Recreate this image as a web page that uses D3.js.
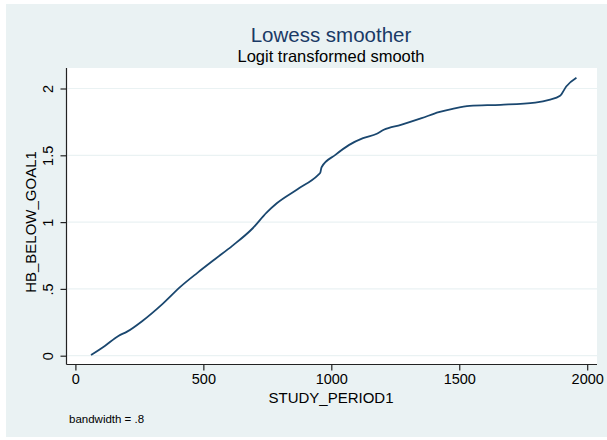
<!DOCTYPE html>
<html>
<head>
<meta charset="utf-8">
<script src="https://cdn.jsdelivr.net/npm/d3@7"></script>
<style>
  body { margin: 0; background: #ffffff; }
  svg { display: block; font-family: Arial, "Liberation Sans", sans-serif; }
</style>
</head>
<body>
<script>
// Lowess curve (STUDY_PERIOD1 vs smoothed HB_BELOW_GOAL1).
var studyPeriod = [61, 115, 168, 202, 263, 343, 411, 478, 545, 613, 693, 747, 787, 868, 949, 957, 962,
                   1016, 1070, 1124, 1178, 1205, 1272, 1353, 1420, 1474, 1541, 1662, 1797, 1851, 1894, 1918, 1958];
var hbBelowGoal = [0.005, 0.073, 0.148, 0.18, 0.262, 0.392, 0.517, 0.622, 0.722, 0.822, 0.954, 1.071, 1.141, 1.246, 1.354, 1.37, 1.411,
                   1.503, 1.578, 1.628, 1.661, 1.691, 1.728, 1.778, 1.823, 1.848, 1.870, 1.878, 1.895, 1.915, 1.945, 2.015, 2.08];
var xTicks = [0, 500, 1000, 1500, 2000];
var yTicks = [0, 0.5, 1, 1.5, 2];
var yTickLabels = ["0", ".5", "1", "1.5", "2"];

var width = 607, height = 440;
var plot = {left: 66.5, right: 597, top: 68, bottom: 364.5};

var svg = d3.select("body").append("svg")
        .attr("width", width)
        .attr("height", height);

// Graph region and plot region.
svg.append("rect")
        .attr("x", 6).attr("y", 4)
        .attr("width", width - 6).attr("height", height - 7)
        .style("fill", "#eaf2f3");
svg.append("rect")
        .attr("x", plot.left).attr("y", plot.top)
        .attr("width", plot.right - plot.left).attr("height", plot.bottom - plot.top)
        .style("fill", "#ffffff");

var x = d3.scaleLinear().domain([0, 2000]).range([75.4, 587.2]);
var y = d3.scaleLinear().domain([0, 2]).range([355.7, 88.5]);

// Grid lines.
svg.append("g").selectAll("line")
        .data(yTicks)
        .enter().append("line")
        .attr("x1", plot.left + 1).attr("x2", plot.right)
        .attr("y1", function(d) { return y(d); })
        .attr("y2", function(d) { return y(d); })
        .style("stroke", "#eaf2f3")
        .style("stroke-width", 1.2);

// X axis.
var xAxis = svg.append("g")
        .attr("transform", "translate(0," + plot.bottom + ")")
        .call(d3.axisBottom(x).tickValues(xTicks).tickSize(6).tickPadding(3).tickFormat(d3.format("d")));
xAxis.select(".domain").attr("d", "M" + plot.left + ",0H" + plot.right);
xAxis.selectAll("text").style("font-size", "14.5px").style("fill", "#000");

// Y axis with rotated tick labels.
var yAxis = svg.append("g")
        .attr("transform", "translate(" + plot.left + ",0)")
        .call(d3.axisLeft(y).tickValues(yTicks).tickSize(6)
              .tickFormat(function(d, i) { return yTickLabels[i]; }));
yAxis.select(".domain").attr("d", "M0," + plot.top + "V" + plot.bottom);
yAxis.selectAll("text")
        .attr("x", null).attr("dy", null)
        .attr("text-anchor", "middle")
        .attr("transform", "translate(-13.5,0) rotate(-90)")
        .style("font-size", "14.5px").style("fill", "#000");
svg.selectAll(".domain, .tick line").style("stroke", "#222").style("stroke-width", 1.2);

// Curve.
var pts = studyPeriod.map(function(d, i) { return [d, hbBelowGoal[i]]; });
svg.append("path")
        .datum(pts)
        .attr("d", d3.line()
              .x(function(d) { return x(d[0]); })
              .y(function(d) { return y(d[1]); })
              .curve(d3.curveMonotoneX))
        .style("fill", "none")
        .style("stroke", "#1a476f")
        .style("stroke-width", 1.8);

// Titles and notes.
svg.append("text")
        .attr("x", 331).attr("y", 42)
        .attr("text-anchor", "middle")
        .style("font-size", "20.5px").style("fill", "#1a3a66")
        .text("Lowess smoother");
svg.append("text")
        .attr("x", 331).attr("y", 62)
        .attr("text-anchor", "middle")
        .style("font-size", "16.5px").style("fill", "#000")
        .text("Logit transformed smooth");
svg.append("text")
        .attr("x", 331).attr("y", 403)
        .attr("text-anchor", "middle")
        .style("font-size", "15px").style("fill", "#000")
        .text("STUDY_PERIOD1");
svg.append("text")
        .attr("transform", "translate(36,222) rotate(-90)")
        .attr("text-anchor", "middle")
        .style("font-size", "15px").style("fill", "#000")
        .text("HB_BELOW_GOAL1");
svg.append("text")
        .attr("x", 69).attr("y", 423)
        .style("font-size", "11.5px").style("fill", "#000")
        .text("bandwidth = .8");
</script>
</body>
</html>
